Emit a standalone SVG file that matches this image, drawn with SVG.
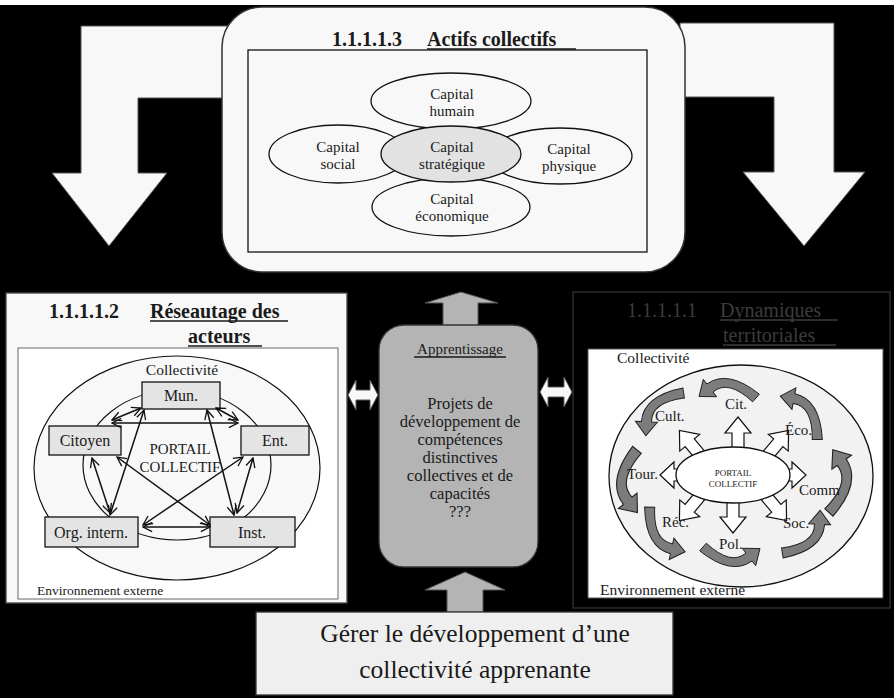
<svg xmlns="http://www.w3.org/2000/svg" width="894" height="698" viewBox="0 0 894 698" font-family="'Liberation Serif','Times New Roman',serif">
<defs>
<style>
text{font-family:"Liberation Serif","Times New Roman",serif;fill:#1a1a1a}
.t{font-size:20px;font-weight:bold}
.td{font-size:20px;fill:#3c3c3c}
.cap{font-size:15px;text-anchor:middle}
.bx{font-size:16px;text-anchor:middle}
.lb{font-size:15px}
.ul{stroke:#1a1a1a;stroke-width:1.3}
.ell{fill:#f8f8f8;stroke:#111;stroke-width:1.3}
.gbox{fill:#e4e4e4;stroke:#111;stroke-width:1.3}
.ar{stroke:#111;stroke-width:1.5;fill:none;marker-start:url(#oa);marker-end:url(#oa)}
.ca{fill:#7c7c7c;stroke:#222;stroke-width:1}
.ba{fill:#fff;stroke:#111;stroke-width:1.2}
.big{fill:#f8f8f8;stroke:#555;stroke-width:1}
</style>
<marker id="oa" viewBox="0 0 12 12" refX="11" refY="6" markerWidth="11" markerHeight="11" markerUnits="userSpaceOnUse" orient="auto-start-reverse">
<path d="M1,1 L11,6 L1,11" fill="none" stroke="#111" stroke-width="1.4"/>
</marker>
<path id="ca" d="M31.3,6.2 Q0,-19 -21.1,-4 L-24.7,-8.7 L-29,8.5 L-11.3,8.7 L-14.9,4 Q0,-9 24.7,13.8 Z"/>
<path id="ba" d="M-6,0 L-6,-16 L-13,-16 L0,-32 L13,-16 L6,-16 L6,0 Z"/>
<path id="ba2" d="M-6,0 L-6,-6 L-13,-6 L0,-20 L13,-6 L6,-6 L6,0 Z"/>
</defs>

<rect x="0" y="0" width="894" height="698" fill="#000"/>
<rect x="0" y="0" width="894" height="5" fill="#fff"/>

<g id="connectors">
<path class="big" d="M230,26 L81,26 L81,173 L52,173 L109,246 L167,173 L138,173 L138,98 L230,98 Z"/>
<path class="big" d="M680,23 L834,23 L834,172 L865,172 L804,246 L743,172 L774,172 L774,97 L680,97 Z"/>
<path d="M443,326 L443,303 L425,303 L461,292 L498,303 L478,303 L478,326 Z" fill="#b4b4b4" stroke="#555" stroke-width="1"/>
<path d="M447,612 L447,590 L425,590 L465,572 L505,590 L483,590 L483,612 Z" fill="#b4b4b4" stroke="#555" stroke-width="1"/>
<path class="big" d="M348,395 L356,380 L356,390 L370,390 L370,380 L378,395 L370,410 L370,400 L356,400 L356,410 Z"/>
<path class="big" d="M540,392 L548,377 L548,387 L564,387 L564,377 L572,392 L564,407 L564,397 L548,397 L548,407 Z"/>
</g>

<g id="actifs">
<rect x="222" y="7" width="463" height="265" rx="40" fill="#f8f8f8" stroke="#333" stroke-width="1.5"/>
<rect x="248" y="50" width="399" height="202" fill="#f8f8f8" stroke="#111" stroke-width="1.3"/>
<text class="t" x="332" y="46">1.1.1.1.3</text>
<text class="t" x="427" y="46">Actifs collectifs</text>
<line class="ul" x1="427" y1="49" x2="576" y2="49"/>
<ellipse class="ell" cx="451" cy="101" rx="80" ry="28"/>
<ellipse class="ell" cx="451" cy="207" rx="79" ry="29"/>
<ellipse class="ell" cx="338" cy="154" rx="69" ry="29"/>
<ellipse class="ell" cx="560" cy="156" rx="72" ry="28"/>
<ellipse cx="451" cy="154" rx="70" ry="28" fill="#e2e2e2" stroke="#111" stroke-width="1.3"/>
<text class="cap" x="452" y="99">Capital</text>
<text class="cap" x="452" y="115.5">humain</text>
<text class="cap" x="338" y="152">Capital</text>
<text class="cap" x="338" y="168.5">social</text>
<text class="cap" x="452" y="152">Capital</text>
<text class="cap" x="452" y="168.5">stratégique</text>
<text class="cap" x="569" y="154">Capital</text>
<text class="cap" x="569" y="170.5">physique</text>
<text class="cap" x="452" y="204">Capital</text>
<text class="cap" x="452" y="220.5">économique</text>
</g>

<g id="reseautage">
<rect x="6" y="293" width="341" height="310" fill="#f8f8f8" stroke="#444" stroke-width="1.3"/>
<text class="t" x="49" y="318">1.1.1.1.2</text>
<text class="t" x="150" y="318">Réseautage des</text>
<line class="ul" x1="150" y1="321" x2="288" y2="321"/>
<text class="t" x="188" y="343">acteurs</text>
<line class="ul" x1="188" y1="346" x2="262" y2="346"/>
<rect x="18" y="348" width="320" height="251" fill="#fff" stroke="#666" stroke-width="1"/>
<ellipse cx="177" cy="468" rx="143" ry="112" fill="#f8f8f8" stroke="#111" stroke-width="1.2"/>
<ellipse cx="177" cy="465" rx="94" ry="75" fill="#f8f8f8" stroke="#111" stroke-width="1.2"/>
<text x="182" y="375" font-size="15.5" text-anchor="middle">Collectivité</text>
<text x="180" y="454" font-size="15" text-anchor="middle">PORTAIL</text>
<text x="180" y="472" font-size="15" text-anchor="middle">COLLECTIF</text>
<rect class="gbox" x="142" y="382" width="78" height="27"/>
<text class="bx" x="181" y="401">Mun.</text>
<rect class="gbox" x="49" y="426" width="72" height="29"/>
<text class="bx" x="85" y="446">Citoyen</text>
<rect class="gbox" x="241" y="426" width="68" height="29"/>
<text class="bx" x="275" y="446">Ent.</text>
<rect class="gbox" x="45" y="517" width="93" height="30"/>
<text class="bx" x="91" y="538">Org. intern.</text>
<rect class="gbox" x="210" y="517" width="85" height="30"/>
<text class="bx" x="252" y="538">Inst.</text>
<text x="37" y="595" font-size="13.5">Environnement externe</text>
<line class="ar" x1="144" y1="410" x2="110" y2="515"/>
<line class="ar" x1="207" y1="410" x2="234" y2="515"/>
<line class="ar" x1="117" y1="457" x2="210" y2="525"/>
<line class="ar" x1="243" y1="457" x2="143" y2="525"/>
<line class="ar" x1="143" y1="527" x2="210" y2="527"/>
<line class="ar" x1="92" y1="458" x2="110" y2="513"/>
<line class="ar" x1="253" y1="458" x2="237" y2="513"/>
<line class="ar" x1="112" y1="420" x2="141" y2="408"/>
<line class="ar" x1="112" y1="423" x2="238" y2="423"/>
<line class="ar" x1="216" y1="408" x2="238" y2="420"/>
</g>

<g id="apprentissage">
<rect x="379" y="325" width="159" height="242" rx="25" fill="#b4b4b4" stroke="#333" stroke-width="1.3"/>
<text x="460" y="354" font-size="15" text-anchor="middle">Apprentissage</text>
<line class="ul" x1="414" y1="357" x2="506" y2="357"/>
<g font-size="16.5" text-anchor="middle">
<text x="460" y="409">Projets de</text>
<text x="460" y="427">développement de</text>
<text x="460" y="445">compétences</text>
<text x="460" y="463">distinctives</text>
<text x="460" y="481">collectives et de</text>
<text x="460" y="499">capacités</text>
<text x="460" y="517">???</text>
</g>
</g>

<g id="dynamiques">
<rect x="573" y="292" width="317" height="316" fill="#000" stroke="#333" stroke-width="1.3"/>
<text class="td" x="627" y="317">1.1.1.1.1</text>
<text class="td" x="720" y="317">Dynamiques</text>
<line x1="720" y1="320" x2="838" y2="320" stroke="#3c3c3c" stroke-width="1.3"/>
<text class="td" x="723" y="342">territoriales</text>
<line x1="723" y1="345" x2="836" y2="345" stroke="#3c3c3c" stroke-width="1.3"/>
<rect x="588" y="349" width="295" height="249" fill="#fff" stroke="#555" stroke-width="1"/>
<ellipse cx="741" cy="476" rx="132" ry="111" fill="#f2f2f2" stroke="#111" stroke-width="1.3"/>
<text x="617" y="363" font-size="15.5">Collectivité</text>
<text x="600" y="595" font-size="15.5">Environnement externe</text>
<use href="#ca" class="ca" transform="translate(728,388)"/>
<use href="#ca" class="ca" transform="translate(658,408) rotate(-50)"/>
<use href="#ca" class="ca" transform="translate(806,412) rotate(48)"/>
<use href="#ca" class="ca" transform="translate(841,482) rotate(92) scale(1.1)"/>
<use href="#ca" class="ca" transform="translate(808,538) rotate(130)"/>
<use href="#ca" class="ca" transform="translate(731,557) rotate(180)"/>
<use href="#ca" class="ca" transform="translate(660,535) rotate(-130)"/>
<use href="#ca" class="ca" transform="translate(627,481) rotate(-92) scale(1.1)"/>
<use href="#ba" class="ba" transform="translate(738,449)"/>
<use href="#ba" class="ba" transform="translate(733,501) rotate(180)"/>
<use href="#ba2" class="ba" transform="translate(680,475) rotate(-90)"/>
<use href="#ba2" class="ba" transform="translate(786,475) rotate(90)"/>
<use href="#ba" class="ba" transform="translate(700,455) rotate(-40)"/>
<use href="#ba" class="ba" transform="translate(768,455) rotate(40)"/>
<use href="#ba" class="ba" transform="translate(700,496) rotate(-140)"/>
<use href="#ba" class="ba" transform="translate(766,496) rotate(140)"/>
<ellipse cx="733" cy="475" rx="57" ry="28" fill="#fff" stroke="#111" stroke-width="1.3"/>
<text x="733" y="476" font-size="9" text-anchor="middle">PORTAIL</text>
<text x="733" y="487" font-size="9" text-anchor="middle">COLLECTIF</text>
<text class="lb" x="725" y="409">Cit.</text>
<text class="lb" x="655" y="421">Cult.</text>
<text class="lb" x="785" y="435">Éco.</text>
<text class="lb" x="627" y="479">Tour.</text>
<text class="lb" x="799" y="495">Comm</text>
<text class="lb" x="662" y="527">Réc.</text>
<text class="lb" x="783" y="528">Soc.</text>
<text class="lb" x="719" y="549">Pol.</text>
</g>

<g id="gerer">
<rect x="256" y="612" width="417" height="83" fill="#efefef" stroke="#333" stroke-width="1.3"/>
<text x="475" y="642" font-size="25.5" text-anchor="middle" fill="#222">Gérer le développement d’une</text>
<text x="475" y="678" font-size="25.5" text-anchor="middle" fill="#222">collectivité apprenante</text>
</g>
</svg>
